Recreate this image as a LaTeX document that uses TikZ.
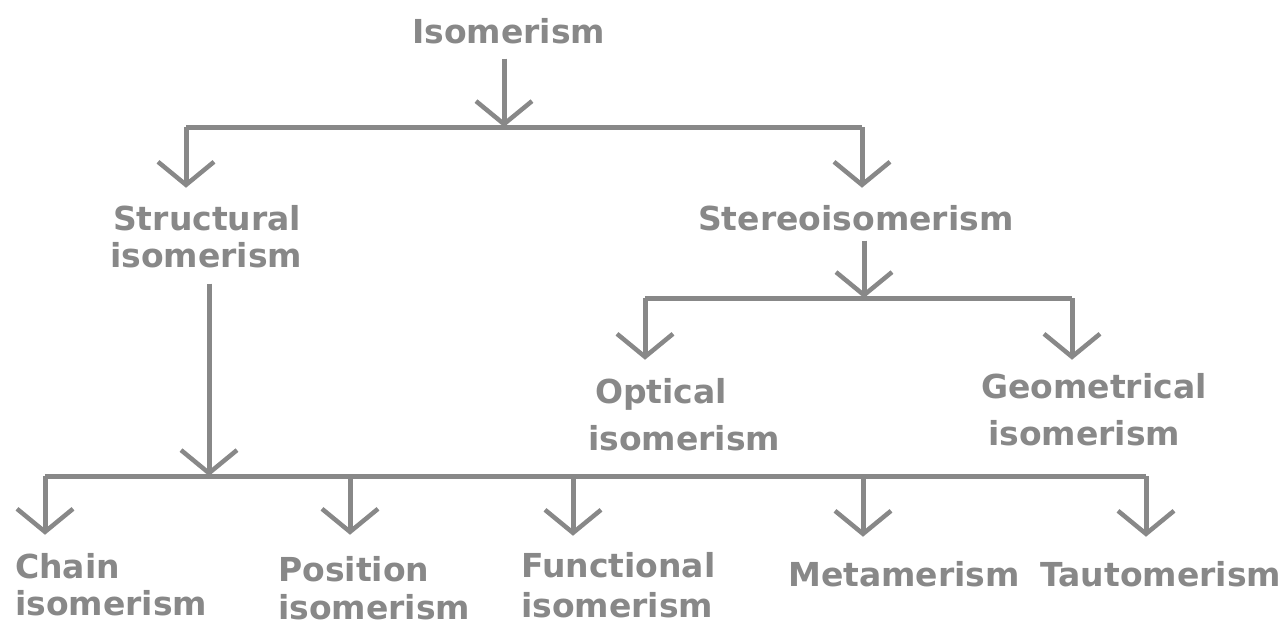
\documentclass[tikz,border=0pt]{standalone}
\usepackage{fontspec}
\setmainfont{DejaVu Sans}
\usetikzlibrary{arrows.meta}
\definecolor{ink}{HTML}{888888}
\tikzset{
  lbl/.style={inner sep=0pt, text=ink, anchor=base west, align=left,
    font=\fontsize{33}{37}\selectfont\bfseries},
  ln/.style={draw=ink, line width=5pt},
  tip/.style={-{Straight Barb[length=23pt,width=56pt,line width=4.5pt]}},
}
\begin{document}
\begin{tikzpicture}[x=1pt,y=-1pt]
\useasboundingbox[fill=white] (0,0) rectangle (1288,625);
% labels (multi-line labels: anchor at the baseline of the last line)
\node[lbl] (iso) at (412,43) {Isomerism};
\node[lbl] (struct) at (113,267) {Structural\\\hspace*{-3pt}isomerism};
\node[lbl] (stereo) at (698,230) {Stereoisomerism};
\node[lbl, font=\fontsize{33}{47}\selectfont\bfseries] (opt) at (595,450) {Optical\\\hspace*{-7pt}isomerism};
\node[lbl, font=\fontsize{33}{47}\selectfont\bfseries] (geo) at (981,445) {Geometrical\\\hspace*{7pt}isomerism};
\node[lbl] (chain) at (15,615) {Chain\\isomerism};
\node[lbl, font=\fontsize{33}{38}\selectfont\bfseries] (pos) at (278,619) {Position\\isomerism};
\node[lbl, font=\fontsize{33}{40}\selectfont\bfseries] (func) at (521,617) {Functional\\isomerism};
\node[lbl] (meta) at (788,586) {Metamerism};
\node[lbl] (tauto) at (1040,586) {Tautomerism};
% junctions on the bars
\coordinate (j1) at (504,127);
\coordinate (b1L) at (186,127);
\coordinate (b1R) at (862,127);
\coordinate (j2) at (864,298);
\coordinate (b2L) at (645,298);
\coordinate (b2R) at (1072,298);
\coordinate (j3) at (209,476);
\coordinate (b3a) at (45,476);
\coordinate (b3b) at (350,476);
\coordinate (b3c) at (573,476);
\coordinate (b3d) at (863,476);
\coordinate (b3e) at (1146,476);
% top level
\draw[ln, tip, shorten <=15pt] (iso.south -| j1) -- (j1);
\draw[ln] (b1L) -- (b1R);
\draw[ln, tip, shorten >=17pt] (b1L) -- (struct.north -| b1L);
\draw[ln, tip, shorten >=17pt] (b1R) -- (stereo.north -| b1R);
% stereoisomerism
\draw[ln, tip, shorten <=10pt] (stereo.south -| j2) -- (j2);
\draw[ln] (b2L) -- (b2R);
\draw[ln, tip, shorten >=18pt] (b2L) -- (opt.north -| b2L);
\draw[ln, tip, shorten >=13pt] (b2R) -- (geo.north -| b2R);
% structural isomerism
\draw[ln, tip, shorten <=16pt] (struct.south -| j3) -- (j3);
\draw[ln] (b3a) -- (b3e);
\draw[ln, tip, shorten >=18pt] (b3a) -- (chain.north -| b3a);
\draw[ln, tip, shorten >=21pt] (b3b) -- (pos.north -| b3b);
\draw[ln, tip, shorten >=16pt] (b3c) -- (func.north -| b3c);
\draw[ln, tip, shorten >=24pt] (b3d) -- (meta.north -| b3d);
\draw[ln, tip, shorten >=24pt] (b3e) -- (tauto.north -| b3e);
\end{tikzpicture}
\end{document}
